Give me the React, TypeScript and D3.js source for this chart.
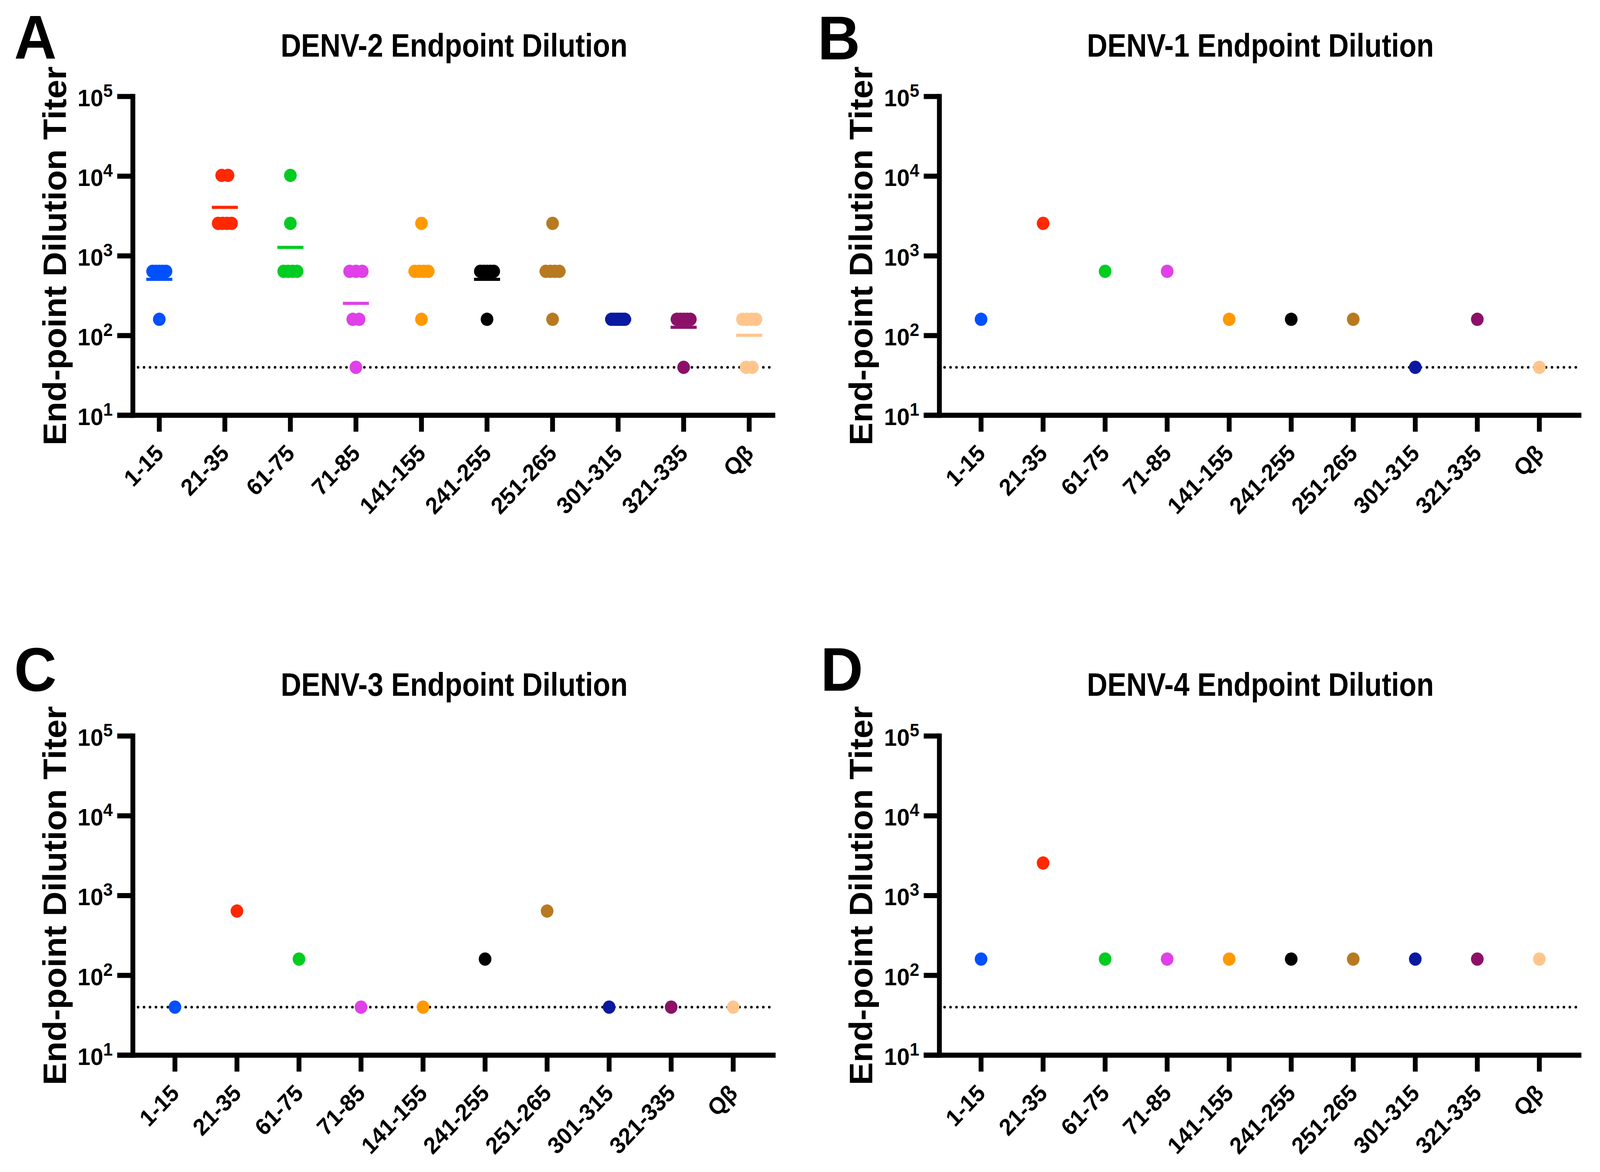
import React from "react";
import * as d3 from "d3";

const categories = ["1-15", "21-35", "61-75", "71-85", "141-155", "241-255", "251-265", "301-315", "321-335", "Qβ"];
const groupColors = ["#0050FF", "#FF2800", "#00CC22", "#E040E8", "#FF9900", "#000000", "#B87A20", "#0A1AA0", "#8C1068", "#FFC58C"];

// DENV-2 (panel A): individual mice per group
const denv2Values = [
  [640, 640, 640, 640, 640, 160],
  [10240, 10240, 2560, 2560, 2560, 2560],
  [10240, 2560, 640, 640, 640, 640],
  [640, 640, 640, 160, 160, 40],
  [2560, 640, 640, 640, 640, 160],
  [640, 640, 640, 640, 640, 160],
  [2560, 640, 640, 640, 640, 160],
  [160, 160, 160, 160, 160, 160],
  [160, 160, 160, 160, 160, 40],
  [160, 160, 160, 160, 40, 40],
];
// DENV-1 (panel B)
const denv1Values = [[160], [2560], [640], [640], [160], [160], [160], [40], [160], [40]];
// DENV-3 (panel C)
const denv3Values = [[40], [640], [160], [40], [40], [160], [640], [40], [40], [40]];
// DENV-4 (panel D)
const denv4Values = [[160], [2560], [160], [160], [160], [160], [160], [160], [160], [160]];

const yTickValues = [10, 100, 1000, 10000, 100000];
const detectionLimit = 40;

const FONT = "'Liberation Sans', Arial, Helvetica, sans-serif";
const W = 4299;
const H = 3000;

const panels = [
  { letter: "A", title: "DENV-2 Endpoint Dilution", data: denv2Values, showMean: true,
    axisX: 357, top: 247, bottom: 1063, right: 2083, tickRange: [428, 2013], letterX: 38, letterY: 150, titleY: 145 },
  { letter: "B", title: "DENV-1 Endpoint Dilution", data: denv1Values, showMean: false,
    axisX: 2524, top: 247, bottom: 1063, right: 4249, tickRange: [2636, 4136], letterX: 2197, letterY: 152, titleY: 145 },
  { letter: "C", title: "DENV-3 Endpoint Dilution", data: denv3Values, showMean: false,
    axisX: 357, top: 1884, bottom: 2701, right: 2084, tickRange: [470, 1970], letterX: 38, letterY: 1768, titleY: 1781 },
  { letter: "D", title: "DENV-4 Endpoint Dilution", data: denv4Values, showMean: false,
    axisX: 2524, top: 1884, bottom: 2701, right: 4249, tickRange: [2636, 4136], letterX: 2205, letterY: 1768, titleY: 1781 },
];

const AXIS_W = 13;
const TICK_LEN = 42;
const R = 17;

function Panel({ p }: { p: (typeof panels)[number] }) {
  const y = d3.scaleLog().domain([10, 100000]).range([p.bottom, p.top]);
  const x = d3.scalePoint<string>().domain(categories).range(p.tickRange as [number, number]);
  const plotCx = (p.axisX + p.right) / 2;
  const plotCy = (p.top + p.bottom) / 2;
  const tickBottom = p.bottom + TICK_LEN;

  const dots: { cx: number; cy: number; color: string; key: string }[] = [];
  const means: { x: number; y: number; color: string; key: string }[] = [];
  categories.forEach((cat, ci) => {
    const vals = p.data[ci];
    const groups = d3.groups(vals, (v) => v);
    groups.forEach(([v, arr]) => {
      const k = arr.length;
      const spread = Math.min((k - 1) * 17, 36);
      arr.forEach((_, i) => {
        const off = k > 1 ? -spread / 2 + (i * spread) / (k - 1) : 0;
        dots.push({ cx: (x(cat) as number) + off, cy: y(v), color: groupColors[ci], key: `${cat}-${v}-${i}` });
      });
    });
    if (p.showMean) {
      const gm = Math.pow(10, d3.mean(vals, (v) => Math.log10(v)) as number);
      means.push({ x: x(cat) as number, y: y(gm), color: groupColors[ci], key: `m-${cat}` });
    }
  });

  return (
    <g>
      <text x={p.letterX} y={p.letterY} fontFamily={FONT} fontWeight="bold" fontSize={158} fill="#000">
        {p.letter}
      </text>
      <text x={plotCx} y={p.titleY} textAnchor="middle" fontFamily={FONT} fontWeight="bold" fontSize={84}
        textLength={932} lengthAdjust="spacingAndGlyphs" fill="#000">
        {p.title}
      </text>
      <text transform={`translate(${p.axisX - 180},${plotCy}) rotate(-90)`} textAnchor="middle"
        fontFamily={FONT} fontWeight="bold" fontSize={88} textLength={970} lengthAdjust="spacingAndGlyphs" fill="#000">
        End-point Dilution Titer
      </text>

      {/* detection limit */}
      <line x1={p.axisX + 14} x2={p.right - 4} y1={y(detectionLimit)} y2={y(detectionLimit)}
        stroke="#000" strokeWidth={7} strokeDasharray="0 16" strokeLinecap="round" />

      {/* axes */}
      <line x1={p.axisX} x2={p.axisX} y1={p.top - AXIS_W / 2} y2={p.bottom + AXIS_W / 2} stroke="#000" strokeWidth={AXIS_W} />
      <line x1={p.axisX - TICK_LEN} x2={p.right} y1={p.bottom} y2={p.bottom} stroke="#000" strokeWidth={AXIS_W} />
      {yTickValues.map((t) => (
        <g key={`yt-${t}`}>
          <line x1={p.axisX - TICK_LEN} x2={p.axisX} y1={y(t)} y2={y(t)} stroke="#000" strokeWidth={AXIS_W} />
          <text x={p.axisX - 54} y={y(t) + 25} textAnchor="end" fontFamily={FONT} fontWeight="bold" fill="#000">
            <tspan fontSize={62}>10</tspan>
            <tspan fontSize={46} dy={-24}>{Math.round(Math.log10(t))}</tspan>
          </text>
        </g>
      ))}
      {categories.map((c) => (
        <g key={`xt-${c}`}>
          <line x1={x(c)} x2={x(c)} y1={p.bottom} y2={tickBottom} stroke="#000" strokeWidth={AXIS_W} />
          <text transform={`translate(${x(c)},${tickBottom + 44}) rotate(-45)`} textAnchor="end"
            dominantBaseline="central" fontFamily={FONT} fontWeight="bold" fontSize={60} fill="#000">
            {c}
          </text>
        </g>
      ))}

      {/* points */}
      {dots.map((d) => (
        <circle key={d.key} cx={d.cx} cy={d.cy} r={R} fill={d.color} />
      ))}
      {means.map((m) => (
        <line key={m.key} x1={m.x - 35} x2={m.x + 35} y1={m.y} y2={m.y} stroke={m.color} strokeWidth={8} />
      ))}
    </g>
  );
}

export default function App() {
  React.useEffect(() => {
    document.body.style.margin = "0";
    document.body.style.overflow = "hidden";
    document.documentElement.style.overflow = "hidden";
  }, []);
  return (
    <svg viewBox={`0 0 ${W} ${H}`} preserveAspectRatio="none"
      style={{ position: "fixed", left: 0, top: 0, width: "100vw", height: "100vh", display: "block", background: "#fff" }}>
      <rect x={0} y={0} width={W} height={H} fill="#fff" />
      {panels.map((p) => (
        <Panel key={p.letter} p={p} />
      ))}
    </svg>
  );
}
